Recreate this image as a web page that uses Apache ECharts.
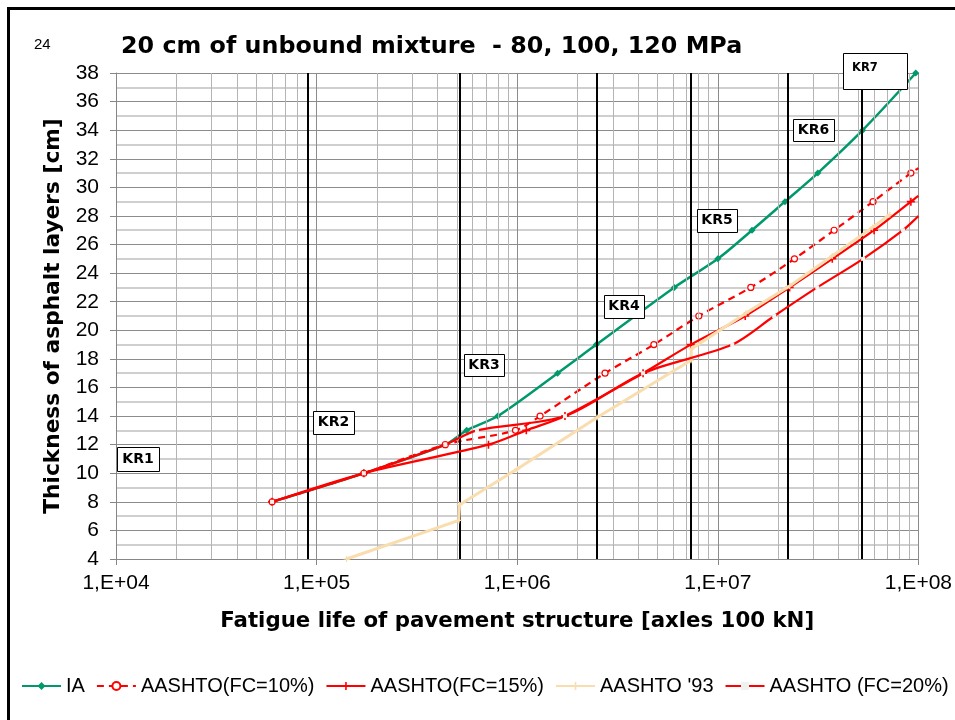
<!DOCTYPE html>
<html>
<head>
<meta charset="utf-8">
<script src="https://cdn.jsdelivr.net/npm/echarts@6/dist/echarts.min.js"></script>
<style>
  html, body { margin: 0; padding: 0; background: #fff; overflow: hidden; }
  #chart { width: 955px; height: 720px; }
</style>
</head>
<body>
<div id="chart"></div>
<script>
// Axis ranges
const lifeMin = 1e4;
const lifeMax = 1e8;
const thickMin = 4;
const thickMax = 38;
const thickStep = 2;

// Traffic category (KR) boundaries, axles 100 kN
const krBounds = [9.0e4, 5.15e5, 2.5e6, 7.3e6, 2.22e7, 5.2e7];
const krNames = ['KR1', 'KR2', 'KR3', 'KR4', 'KR5', 'KR6', 'KR7'];

// IA
const iaLife  = [6.0e4, 1.72e5, 4.38e5, 5.6e5, 8.0e5, 1.59e6, 2.48e6, 6.07e6, 1.0e7, 1.48e7, 2.16e7, 3.15e7, 5.27e7, 9.7e7];
const iaThick = [8, 10, 12, 13, 14, 17, 19, 23, 25, 27, 29, 31, 34, 38];

// AASHTO (FC = 10%)
const fc10Life  = [6.0e4, 1.72e5, 4.38e5, 9.8e5, 1.30e6, 2.74e6, 4.80e6, 8.04e6, 1.46e7, 2.41e7, 3.80e7, 5.94e7, 9.17e7];
const fc10Thick = [8, 10, 12, 13, 14, 17, 19, 21, 23, 25, 27, 29, 31];
const fc10Edge  = [1e8, 31.35];

// AASHTO (FC = 15%)
const fc15Life  = [6.0e4, 1.72e5, 7.19e5, 1.11e6, 1.73e6, 4.24e6, 7.33e6, 1.37e7, 2.28e7, 3.72e7, 6.01e7, 9.17e7];
const fc15Thick = [8, 10, 12, 13, 14, 17, 19, 21, 23, 25, 27, 29];
const fc15Edge  = [1e8, 29.4];

// AASHTO '93 (three modulus segments)
const a93Life  = [1.41e5, 5.12e5, 5.16e5, 1.0e6, 2.5e6, 7.35e6, 7.38e6, 1.38e7, 2.28e7, 3.72e7, 5.9e7, 7.2e7];
const a93Thick = [4.0, 6.7, 7.8, 10.3, 13.9, 17.9, 18.7, 21.2, 23.1, 25.2, 27.2, 28.1];

// AASHTO (FC = 20%)
const fc20Life  = [6.0e4, 1.72e5, 4.38e5, 6.3e5, 1.73e6, 4.24e6, 1.18e7, 1.91e7, 3.13e7, 5.30e7, 8.38e7];
const fc20Thick = [8, 10, 12, 13.0, 14, 17, 19, 21, 23, 25, 27];
const fc20Edge  = [1e8, 28.0];

const legendNames = ['IA', 'AASHTO(FC=10%)', 'AASHTO(FC=15%)', "AASHTO '93", 'AASHTO (FC=20%)'];

function pairs(xs, ys) { return xs.map((x, i) => [x, ys[i]]); }
function withEdge(pts, edge) { return pts.concat([{ value: edge, symbol: 'none' }]); }

// minor vertical grid at 2..9 within each decade
const minorLife = [];
for (let e = 4; e < 8; e++) for (let m = 2; m <= 9; m++) minorLife.push(m * Math.pow(10, e));

const sans = "'Liberation Sans', Arial, sans-serif";
const bold = "'DejaVu Sans', Verdana, sans-serif";

const GREEN = '#00996B';
const RED = '#FF0000';
const BEIGE = '#F9DDAF';
const PLUS = 'path://M4,0h2v4h4v2h-4v4h-2v-4h-4v-2h4z';

const chart = echarts.init(document.getElementById('chart'), null, { renderer: 'canvas', width: 955, height: 720 });

const krBoxes = [
  { x: 117, y: 447, w: 42, h: 24, fs: 14, tx: 138, ty: 459, align: 'center' },
  { x: 313, y: 411, w: 41, h: 23, fs: 14, tx: 333.5, ty: 422.5, align: 'center' },
  { x: 464, y: 354, w: 40, h: 22, fs: 14, tx: 484, ty: 365, align: 'center' },
  { x: 604, y: 295, w: 40, h: 23, fs: 14, tx: 624, ty: 306.5, align: 'center' },
  { x: 697, y: 209, w: 40, h: 23, fs: 14, tx: 717, ty: 220.5, align: 'center' },
  { x: 793, y: 119, w: 41, h: 22, fs: 14, tx: 813.5, ty: 130, align: 'center' },
  { x: 843, y: 53, w: 64, h: 36, fs: 11.5, tx: 852, ty: 68, align: 'left' }
];

const graphics = [
  { type: 'rect', z: 100, silent: true,
    shape: { x: 8.5, y: 8.5, width: 990, height: 760 },
    style: { fill: 'none', stroke: '#000', lineWidth: 3 } },
  { type: 'text', z: 100, x: 34, y: 45,
    style: { text: '24', fontSize: 15, fontFamily: sans, fill: '#000', textVerticalAlign: 'middle' } }
];
krBoxes.forEach((b, i) => {
  graphics.push({ type: 'rect', z: 50, shape: { x: b.x + 0.5, y: b.y + 0.5, width: b.w, height: b.h },
    style: { fill: '#fff', stroke: '#000', lineWidth: 1 } });
  graphics.push({ type: 'text', z: 51, x: b.tx, y: b.ty,
    style: { text: krNames[i], fontSize: b.fs, fontWeight: 'bold', fontFamily: bold, fill: '#000',
             textAlign: b.align, textVerticalAlign: 'middle' } });
});

const option = {
  animation: false,
  backgroundColor: '#fff',
  title: {
    text: '20 cm of unbound mixture  - 80, 100, 120 MPa',
    left: 116, top: 30,
    textStyle: { fontFamily: bold, fontWeight: 'bold', fontSize: 23.8, color: '#000' }
  },
  grid: { left: 116, right: 27, top: 73, bottom: 161, containLabel: false },
  legend: {
    left: 21, top: 676, width: 1000, padding: 0,
    itemWidth: 39, itemHeight: 10, itemGap: 11,
    textStyle: { fontFamily: sans, fontSize: 20, color: '#000' },
    data: legendNames
  },
  xAxis: {
    type: 'log', logBase: 10, min: lifeMin, max: lifeMax,
    name: 'Fatigue life of pavement structure [axles 100 kN]',
    nameLocation: 'middle', nameGap: 52,
    nameTextStyle: { fontFamily: bold, fontWeight: 'bold', fontSize: 21.3, color: '#000' },
    axisLine: { show: true, lineStyle: { color: '#868686', width: 1 } },
    axisTick: { show: true, length: 6, inside: false, lineStyle: { color: '#868686' } },
    axisLabel: {
      margin: 14, fontFamily: sans, fontSize: 21, color: '#000',
      formatter: v => '1,E+' + String(Math.round(Math.log10(v))).padStart(2, '0')
    },
    splitLine: { show: true, lineStyle: { color: '#8c8c8c', width: 1 } }
  },
  yAxis: {
    type: 'value', min: thickMin, max: thickMax, interval: thickStep,
    name: 'Thickness of asphalt layers [cm]',
    nameLocation: 'middle', nameGap: 40,
    nameTextStyle: { fontFamily: bold, fontWeight: 'bold', fontSize: 21.7, color: '#000' },
    axisLine: { show: true, lineStyle: { color: '#868686', width: 1 } },
    axisTick: { show: true, length: 6, lineStyle: { color: '#868686' } },
    axisLabel: { margin: 17, fontFamily: sans, fontSize: 21, color: '#000' },
    splitLine: { show: true, lineStyle: { color: '#8c8c8c', width: 1 } },
    minorTick: { show: false, splitNumber: 2 },
    minorSplitLine: { show: true, lineStyle: { color: '#cfcfcf', width: 2 } }
  },
  series: [
    {
      type: 'line', data: [], z: 0, silent: true,
      markLine: {
        silent: true, symbol: ['none', 'none'], label: { show: false },
        lineStyle: { color: '#b4b4b4', width: 1, type: 'solid' },
        emphasis: { disabled: true },
        data: minorLife.map(v => ({ xAxis: v }))
      }
    },
    {
      type: 'line', data: [], z: 1, silent: true,
      markLine: {
        silent: true, symbol: ['none', 'none'], label: { show: false },
        lineStyle: { color: '#000', width: 2, type: 'solid' },
        emphasis: { disabled: true },
        data: krBounds.map(v => ({ xAxis: v }))
      }
    },
    {
      name: legendNames[0], type: 'line', z: 3, smooth: 0.3,
      data: pairs(iaLife, iaThick),
      symbol: 'diamond', symbolSize: 7,
      itemStyle: { color: GREEN },
      lineStyle: { color: GREEN, width: 2.5 }
    },
    {
      name: legendNames[1], type: 'line', z: 4, smooth: 0.3,
      data: withEdge(pairs(fc10Life, fc10Thick), fc10Edge),
      symbol: 'circle', symbolSize: 6,
      itemStyle: { color: '#fff', borderColor: RED, borderWidth: 1.2 },
      lineStyle: { color: RED, width: 2.2, type: [7, 5] }
    },
    {
      name: legendNames[2], type: 'line', z: 5, smooth: 0.3,
      data: withEdge(pairs(fc15Life, fc15Thick), fc15Edge),
      symbol: PLUS, symbolSize: 8,
      itemStyle: { color: RED },
      lineStyle: { color: RED, width: 2.2 }
    },
    {
      name: legendNames[3], type: 'line', z: 6, smooth: false,
      data: pairs(a93Life, a93Thick),
      symbol: PLUS, symbolSize: 6,
      itemStyle: { color: BEIGE },
      lineStyle: { color: BEIGE, width: 3 }
    },
    {
      name: legendNames[4], type: 'line', z: 7, smooth: 0.3,
      data: withEdge(pairs(fc20Life, fc20Thick), fc20Edge),
      symbol: 'rect', symbolSize: [4, 4],
      itemStyle: { color: '#eef3ee' },
      lineStyle: { color: RED, width: 2.2 }
    }
  ],
  graphic: graphics
};

chart.setOption(option);
</script>
</body>
</html>
